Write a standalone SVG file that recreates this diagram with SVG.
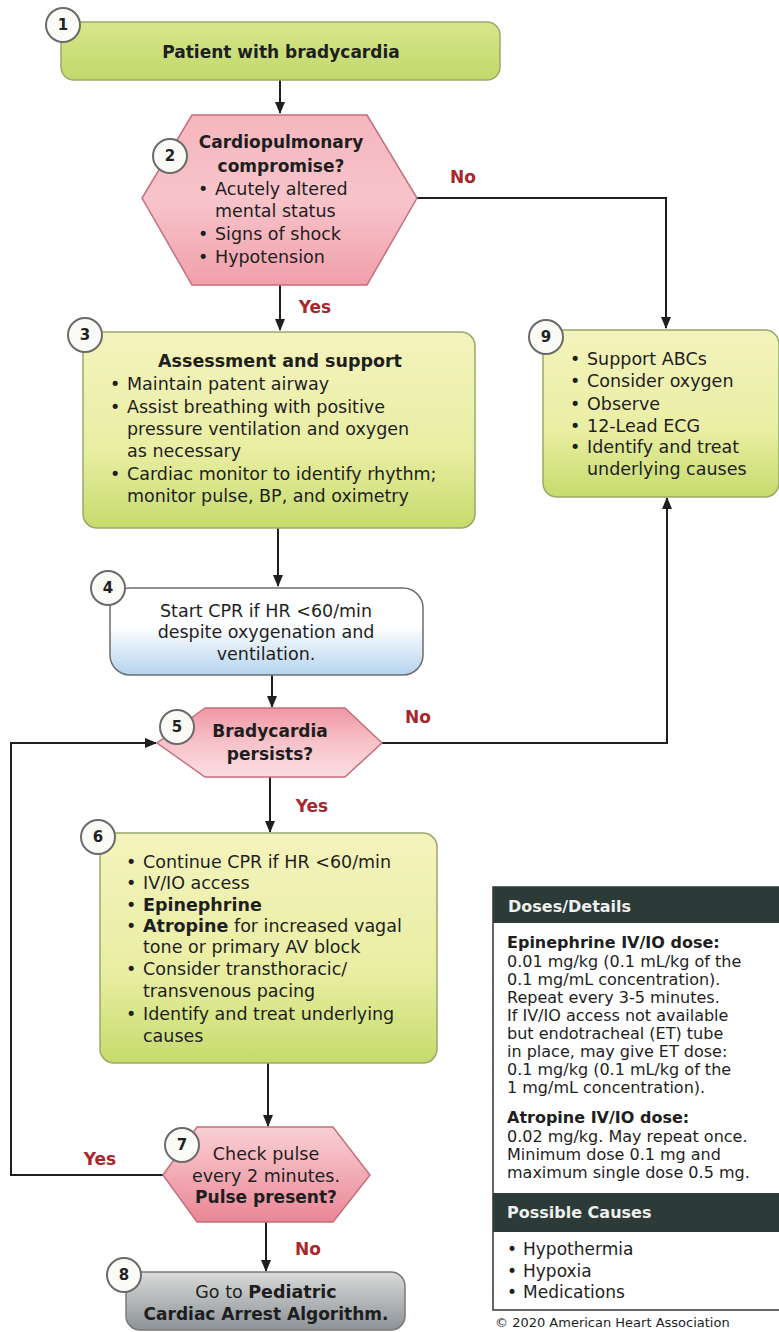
<svg xmlns="http://www.w3.org/2000/svg" width="779" height="1332" viewBox="0 0 779 1332">
<style>
text{font-family:"DejaVu Sans","Liberation Sans",sans-serif;fill:#1e1e1e}
.t{font-size:17.5px}
.b{font-weight:bold}
.c{text-anchor:middle}
.lbl{font-size:17px;font-weight:bold;fill:#a8272d;text-anchor:middle}
.num{font-size:15px;font-weight:bold;text-anchor:middle;fill:#222}
.ring{fill:#fafaf7;stroke:#6b6b6b;stroke-width:2}
.green{stroke:#9ba86a;stroke-width:1.5}
.pink{stroke:#c46f7b;stroke-width:1.5}
.conn{fill:none;stroke:#1f1f1f;stroke-width:2}
.d{font-size:16px}
.hdr{font-size:16px;font-weight:bold;fill:#eef1ef}
</style>
<defs>
<marker id="ah" markerWidth="12" markerHeight="10" refX="11" refY="5" orient="auto" markerUnits="userSpaceOnUse">
<path d="M0,0 L12,5 L0,10 Z" fill="#1f1f1f"/>
</marker>
<linearGradient id="g1" x1="0" y1="0" x2="0" y2="1"><stop offset="0" stop-color="#d7e68b"/><stop offset="1" stop-color="#c2d86b"/></linearGradient>
<linearGradient id="gy" x1="0" y1="0" x2="0" y2="1"><stop offset="0" stop-color="#f4f3bd"/><stop offset="0.6" stop-color="#e9eea3"/><stop offset="1" stop-color="#c6db6c"/></linearGradient>
<linearGradient id="gp2" x1="0" y1="0" x2="0" y2="1"><stop offset="0" stop-color="#f5b6be"/><stop offset="0.5" stop-color="#f7c4ca"/><stop offset="1" stop-color="#f19fab"/></linearGradient>
<linearGradient id="gp5" x1="0" y1="0" x2="0" y2="1"><stop offset="0" stop-color="#f097a4"/><stop offset="0.5" stop-color="#f7c2c9"/><stop offset="1" stop-color="#fbdde1"/></linearGradient>
<linearGradient id="gp7" x1="0" y1="0" x2="0" y2="1"><stop offset="0" stop-color="#f9d0d5"/><stop offset="1" stop-color="#eb8695"/></linearGradient>
<linearGradient id="gb" x1="0" y1="0" x2="0" y2="1"><stop offset="0" stop-color="#ffffff"/><stop offset="0.45" stop-color="#fdfeff"/><stop offset="1" stop-color="#b5d3ee"/></linearGradient>
<linearGradient id="gg" x1="0" y1="0" x2="0" y2="1"><stop offset="0" stop-color="#dadada"/><stop offset="1" stop-color="#8c9396"/></linearGradient>
</defs>
<rect width="779" height="1332" fill="#ffffff"/>

<g id="connectors">
<path class="conn" d="M280,80 V113" marker-end="url(#ah)"/>
<path class="conn" d="M280,285 V330" marker-end="url(#ah)"/>
<path class="conn" d="M417,198 H666 V328" marker-end="url(#ah)"/>
<path class="conn" d="M278,528 V586" marker-end="url(#ah)"/>
<path class="conn" d="M272,675 V707" marker-end="url(#ah)"/>
<path class="conn" d="M382,743 H667 V498" marker-end="url(#ah)"/>
<path class="conn" d="M270,777 V832" marker-end="url(#ah)"/>
<path class="conn" d="M268,1063 V1126" marker-end="url(#ah)"/>
<path class="conn" d="M163,1175 H11 V743 H156" marker-end="url(#ah)"/>
<path class="conn" d="M266,1222 V1271" marker-end="url(#ah)"/>
<text class="lbl" x="463" y="183">No</text>
<text class="lbl" x="315" y="313">Yes</text>
<text class="lbl" x="418" y="723">No</text>
<text class="lbl" x="312" y="812">Yes</text>
<text class="lbl" x="100" y="1165">Yes</text>
<text class="lbl" x="308" y="1255">No</text>
</g>

<g id="node1">
<rect x="61" y="22" width="439" height="58" rx="13" fill="url(#g1)" class="green"/>
<text class="t b c" x="281" y="58" style="font-size:17px">Patient with bradycardia</text>
<circle class="ring" cx="63" cy="25" r="17"/><text class="num" x="63" y="30">1</text>
</g>

<g id="node2">
<polygon points="192,115 367,115 417,198 367,285 192,285 142,198" fill="url(#gp2)" class="pink"/>
<text class="t b c" x="281" y="148" style="font-size:17px">Cardiopulmonary</text>
<text class="t b c" x="281" y="172" style="font-size:17px">compromise?</text>
<text class="t" y="195"><tspan x="198">•</tspan><tspan x="215">Acutely altered</tspan></text>
<text class="t" x="215" y="217">mental status</text>
<text class="t" y="240"><tspan x="198">•</tspan><tspan x="215">Signs of shock</tspan></text>
<text class="t" y="263"><tspan x="198">•</tspan><tspan x="215">Hypotension</tspan></text>
<circle class="ring" cx="170" cy="156" r="17"/><text class="num" x="170" y="161">2</text>
</g>

<g id="node3">
<rect x="83" y="332" width="392" height="196" rx="14" fill="url(#gy)" class="green"/>
<text class="t b c" x="280" y="367">Assessment and support</text>
<text class="t" y="390"><tspan x="110">•</tspan><tspan x="127">Maintain patent airway</tspan></text>
<text class="t" y="413"><tspan x="110">•</tspan><tspan x="127">Assist breathing with positive</tspan></text>
<text class="t" x="127" y="435">pressure ventilation and oxygen</text>
<text class="t" x="127" y="457">as necessary</text>
<text class="t" y="480"><tspan x="110">•</tspan><tspan x="127">Cardiac monitor to identify rhythm;</tspan></text>
<text class="t" x="127" y="502">monitor pulse, BP, and oximetry</text>
<circle class="ring" cx="85" cy="335" r="17"/><text class="num" x="85" y="340">3</text>
</g>

<g id="node9">
<rect x="543" y="330" width="236" height="167" rx="14" fill="url(#gy)" class="green"/>
<text class="t" y="365"><tspan x="570">•</tspan><tspan x="587">Support ABCs</tspan></text>
<text class="t" y="387"><tspan x="570">•</tspan><tspan x="587">Consider oxygen</tspan></text>
<text class="t" y="410"><tspan x="570">•</tspan><tspan x="587">Observe</tspan></text>
<text class="t" y="432"><tspan x="570">•</tspan><tspan x="587">12-Lead ECG</tspan></text>
<text class="t" y="453"><tspan x="570">•</tspan><tspan x="587">Identify and treat</tspan></text>
<text class="t" x="587" y="475">underlying causes</text>
<circle class="ring" cx="546" cy="337" r="17"/><text class="num" x="546" y="342">9</text>
</g>

<g id="node4">
<rect x="110" y="588" width="313" height="87" rx="20" fill="url(#gb)" stroke="#6e6e6e" stroke-width="1.5"/>
<text class="t c" x="266" y="617">Start CPR if HR &lt;60/min</text>
<text class="t c" x="266" y="638">despite oxygenation and</text>
<text class="t c" x="266" y="660">ventilation.</text>
<circle class="ring" cx="108" cy="588" r="17"/><text class="num" x="108" y="593">4</text>
</g>

<g id="node5">
<polygon points="205,708 345,708 382,743 345,777 205,777 157,743" fill="url(#gp5)" class="pink"/>
<text class="t b c" x="270" y="737" style="font-size:17px">Bradycardia</text>
<text class="t b c" x="270" y="760" style="font-size:17px">persists?</text>
<circle class="ring" cx="177" cy="727" r="17"/><text class="num" x="177" y="732">5</text>
</g>

<g id="node6">
<rect x="100" y="833" width="337" height="230" rx="14" fill="url(#gy)" class="green"/>
<text class="t" y="868"><tspan x="126">•</tspan><tspan x="143">Continue CPR if HR &lt;60/min</tspan></text>
<text class="t" y="889"><tspan x="126">•</tspan><tspan x="143">IV/IO access</tspan></text>
<text class="t" y="911"><tspan x="126">•</tspan><tspan x="143" font-weight="bold">Epinephrine</tspan></text>
<text class="t" y="932"><tspan x="126">•</tspan><tspan x="143" font-weight="bold">Atropine</tspan><tspan> for increased vagal</tspan></text>
<text class="t" x="143" y="953">tone or primary AV block</text>
<text class="t" y="975"><tspan x="126">•</tspan><tspan x="143">Consider transthoracic/</tspan></text>
<text class="t" x="143" y="997">transvenous pacing</text>
<text class="t" y="1020"><tspan x="126">•</tspan><tspan x="143">Identify and treat underlying</tspan></text>
<text class="t" x="143" y="1042">causes</text>
<circle class="ring" cx="98" cy="837" r="17"/><text class="num" x="98" y="842">6</text>
</g>

<g id="node7">
<polygon points="197,1127 333,1127 370,1175 333,1222 197,1222 163,1175" fill="url(#gp7)" class="pink"/>
<text class="t c" x="266" y="1160">Check pulse</text>
<text class="t c" x="266" y="1182">every 2 minutes.</text>
<text class="t b c" x="266" y="1203" style="font-size:17px">Pulse present?</text>
<circle class="ring" cx="182" cy="1145" r="17"/><text class="num" x="182" y="1150">7</text>
</g>

<g id="node8">
<rect x="126" y="1272" width="279" height="58" rx="14" fill="url(#gg)" stroke="#7a7a7a" stroke-width="1.5"/>
<text class="t c" x="266" y="1298">Go to <tspan font-weight="bold">Pediatric</tspan></text>
<text class="t b c" x="266" y="1320" style="font-size:17px">Cardiac Arrest Algorithm.</text>
<circle class="ring" cx="124" cy="1275" r="17"/><text class="num" x="124" y="1280">8</text>
</g>

<g id="doses">
<rect x="493" y="887" width="300" height="423" fill="#ffffff" stroke="#333" stroke-width="1.5"/>
<rect x="493" y="887" width="300" height="36" fill="#2d3b38"/>
<text class="hdr" x="508" y="912">Doses/Details</text>
<text class="d b" x="507" y="948">Epinephrine IV/IO dose:</text>
<text class="d" x="507" y="967">0.01 mg/kg (0.1 mL/kg of the</text>
<text class="d" x="507" y="985">0.1 mg/mL concentration).</text>
<text class="d" x="507" y="1003">Repeat every 3-5 minutes.</text>
<text class="d" x="507" y="1021">If IV/IO access not available</text>
<text class="d" x="507" y="1039">but endotracheal (ET) tube</text>
<text class="d" x="507" y="1057">in place, may give ET dose:</text>
<text class="d" x="507" y="1075">0.1 mg/kg (0.1 mL/kg of the</text>
<text class="d" x="507" y="1093">1 mg/mL concentration).</text>
<text class="d b" x="507" y="1123">Atropine IV/IO dose:</text>
<text class="d" x="507" y="1142">0.02 mg/kg. May repeat once.</text>
<text class="d" x="507" y="1160">Minimum dose 0.1 mg and</text>
<text class="d" x="507" y="1178">maximum single dose 0.5 mg.</text>
<rect x="493" y="1193" width="300" height="39" fill="#2d3b38"/>
<text class="hdr" x="507" y="1218">Possible Causes</text>
<text class="t" y="1255" style="font-size:17px"><tspan x="507">•</tspan><tspan x="523">Hypothermia</tspan></text>
<text class="t" y="1277" style="font-size:17px"><tspan x="507">•</tspan><tspan x="523">Hypoxia</tspan></text>
<text class="t" y="1298" style="font-size:17px"><tspan x="507">•</tspan><tspan x="523">Medications</tspan></text>
<text x="495" y="1327" style="font-size:13px">© 2020 American Heart Association</text>
</g>
</svg>
